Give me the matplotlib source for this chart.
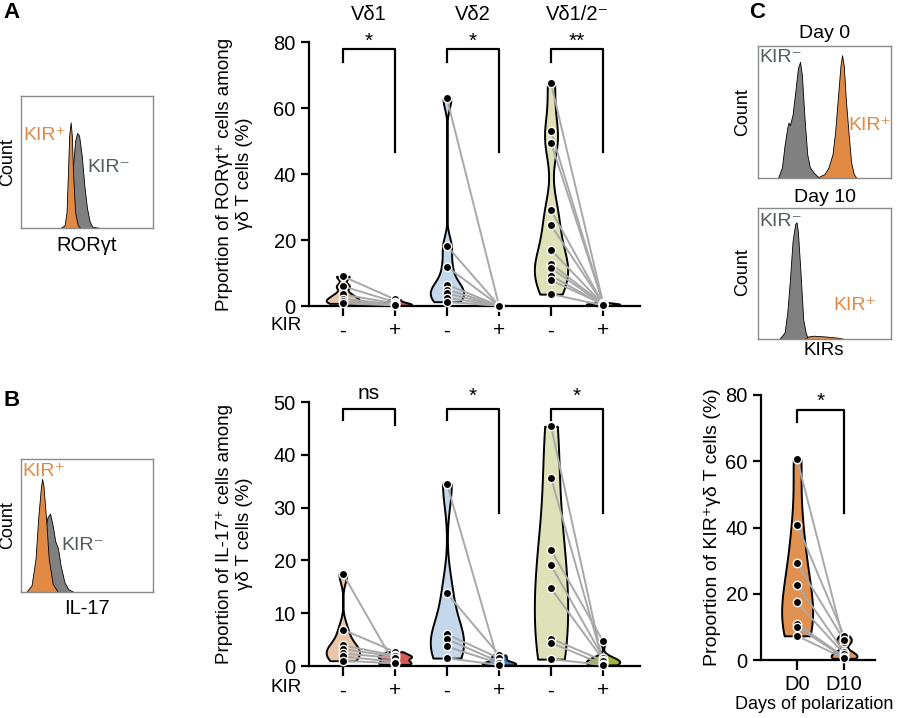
import matplotlib.pyplot as plt
from matplotlib.transforms import blended_transform_factory
import numpy as np

plt.rcParams['font.family'] = ['Liberation Sans', 'DejaVu Sans']

# ---- panel A: RORgt+ (%) ; KIR- / KIR+ paired per donor
ror_vd1_neg = [9.0, 6.0, 3.5, 2.2, 1.5, 0.8]
ror_vd1_pos = [2.0, 1.2, 0.8, 0.5, 0.3, 0.2]
ror_vd2_neg = [62.9, 18.2, 11.9, 6.5, 5.0, 3.8, 2.5, 1.3]
ror_vd2_pos = [0.2, 0.1, 0.15, 0.05, 0.1, 0.0, 0.05, 0.0]
ror_vd12_neg = [67.5, 53.0, 49.5, 29.0, 24.5, 17.0, 12.8, 11.5, 9.2, 7.8, 3.6]
ror_vd12_pos = [1.0, 0.8, 0.9, 0.6, 0.7, 0.5, 0.6, 0.4, 0.3, 0.5, 0.2]

# ---- panel B: IL-17+ (%)
il_vd1_neg = [17.5, 6.9, 3.9, 3.2, 2.4, 1.8, 1.0]
il_vd1_pos = [0.3, 2.7, 2.0, 1.8, 1.5, 0.8, 0.5]
il_vd2_neg = [34.5, 13.8, 6.0, 5.1, 3.7, 1.5]
il_vd2_pos = [0.3, 2.1, 1.5, 0.8, 0.5, 0.2]
il_vd12_neg = [45.4, 35.7, 22.0, 19.1, 14.7, 5.2, 4.4, 1.3]
il_vd12_pos = [0.5, 0.8, 4.7, 1.6, 1.2, 1.0, 0.3, 0.2]

# ---- panel C: KIR+ gd T cells (%) D0 vs D10
kir_d0 = [60.6, 40.8, 29.2, 22.7, 17.4, 10.9, 10.0, 7.3]
kir_d10 = [5.3, 7.3, 6.0, 2.5, 1.8, 1.0, 0.8, 0.5]

groups = ["Vδ1", "Vδ2", "Vδ1/2⁻"]
kir_ticks = ["-", "+"] * 3
day_ticks = ["D0", "D10"]

col_neg = ["#e9c6a8", "#c3d8ea", "#dfe2b8"]
col_pos = ["#d65a55", "#3f80c4", "#a5b23f"]
col_c = "#e0914f"
orange = "#e08a45"
kir_gray = "#555c5c"

# ---- flow histograms (box coords 0..1)
a_neg_x = [0.30, 0.34, 0.37, 0.39, 0.41, 0.425, 0.44, 0.46, 0.48, 0.50, 0.52, 0.54, 0.60]
a_neg_y = [0.0, 0.02, 0.12, 0.42, 0.66, 0.72, 0.70, 0.55, 0.32, 0.15, 0.05, 0.01, 0.0]
a_pos_x = [0.30, 0.33, 0.345, 0.355, 0.365, 0.376, 0.385, 0.395, 0.41, 0.43, 0.45]
a_pos_y = [0.0, 0.02, 0.12, 0.40, 0.70, 0.80, 0.70, 0.40, 0.12, 0.02, 0.0]

b_neg_x = [0.05, 0.10, 0.15, 0.18, 0.20, 0.22, 0.24, 0.26, 0.28, 0.30, 0.33, 0.36, 0.40]
b_neg_y = [0.0, 0.05, 0.20, 0.45, 0.56, 0.59, 0.50, 0.38, 0.33, 0.20, 0.07, 0.02, 0.0]
b_pos_x = [0.04, 0.08, 0.11, 0.13, 0.15, 0.16, 0.17, 0.19, 0.21, 0.24, 0.28]
b_pos_y = [0.0, 0.05, 0.25, 0.55, 0.78, 0.85, 0.80, 0.55, 0.25, 0.06, 0.0]

d0_neg_x = [0.15, 0.18, 0.20, 0.22, 0.23, 0.24, 0.26, 0.28, 0.30, 0.316, 0.33, 0.35, 0.37, 0.39, 0.42, 0.46]
d0_neg_y = [0.0, 0.08, 0.25, 0.38, 0.42, 0.40, 0.48, 0.65, 0.83, 0.88, 0.78, 0.45, 0.18, 0.08, 0.04, 0.0]
d0_pos_x = [0.44, 0.50, 0.53, 0.56, 0.58, 0.60, 0.62, 0.632, 0.645, 0.66, 0.68, 0.70, 0.72, 0.74]
d0_pos_y = [0.0, 0.03, 0.08, 0.18, 0.35, 0.60, 0.85, 0.93, 0.85, 0.60, 0.35, 0.12, 0.03, 0.0]

d10_neg_x = [0.16, 0.20, 0.22, 0.24, 0.26, 0.28, 0.29, 0.30, 0.32, 0.34, 0.36, 0.38]
d10_neg_y = [0.0, 0.05, 0.20, 0.45, 0.75, 0.88, 0.89, 0.82, 0.50, 0.15, 0.04, 0.0]
d10_pos_x = [0.35, 0.38, 0.42, 0.46, 0.50, 0.55, 0.60, 0.65]
d10_pos_y = [0.0, 0.02, 0.025, 0.022, 0.02, 0.015, 0.01, 0.0]

W, H = 900, 718
fig = plt.figure(figsize=(9, 7.18), dpi=100)


def box(x0, y0, x1, y1):
    # pixel box -> figure rect
    return [x0 / W, 1 - y1 / H, (x1 - x0) / W, (y1 - y0) / H]


def ftext(x, y, s, **kw):
    fig.text(x / W, 1 - y / H, s, **kw)


def violin(ax, data, pos, color, bw, width=0.64):
    parts = ax.violinplot(data, positions=[pos], widths=width,
                          showextrema=False, bw_method=bw, points=200)
    for b in parts['bodies']:
        b.set_facecolor(color)
        b.set_edgecolor('black')
        b.set_linewidth(1.4)
        b.set_alpha(1)
        b.set_zorder(2)


def pairs(ax, neg, pos, x0, x1):
    for a, b in zip(neg, pos):
        ax.plot([x0, x1], [a, b], color='#a8a8a8', lw=1.4, zorder=3)
    ax.plot([x0] * len(neg), neg, 'o', ms=6, mfc='black', mec='white',
            mew=1.0, zorder=4, clip_on=False)
    ax.plot([x1] * len(pos), pos, 'o', ms=6, mfc='black', mec='white',
            mew=1.0, zorder=4, clip_on=False)


def bracket(ax, x0, x1, top, lb, rb, label, ly):
    ax.plot([x0, x0, x1, x1], [lb, top, top, rb], color='black', lw=1.6,
            clip_on=False, zorder=5)
    ax.text((x0 + x1) / 2, ly, label, ha='center', va='center', fontsize=15,
            clip_on=False)


def style(ax):
    for s in ['top', 'right']:
        ax.spines[s].set_visible(False)
    for s in ['left', 'bottom']:
        ax.spines[s].set_linewidth(1.6)
    ax.tick_params(axis='both', labelsize=14.5, width=1.6, length=6)
    ax.tick_params(axis='x', length=7, pad=4)


def histo(rect, neg_x, neg_y, pos_x, pos_y):
    ax = fig.add_axes(rect)
    ax.fill_between(neg_x, neg_y, color='#808080', ec='black', lw=0.6)
    ax.fill_between(pos_x, pos_y, color=orange, ec='black', lw=0.6)
    ax.set_xlim(0, 1)
    ax.set_ylim(0, 1)
    ax.set_xticks([])
    ax.set_yticks([])
    for s in ax.spines.values():
        s.set_color('#8a8a8a')
        s.set_linewidth(1.0)
    return ax


# ======== violin panels A and B
xs = np.arange(6)
panelA = (ror_vd1_neg, ror_vd1_pos, ror_vd2_neg, ror_vd2_pos, ror_vd12_neg, ror_vd12_pos)
panelB = (il_vd1_neg, il_vd1_pos, il_vd2_neg, il_vd2_pos, il_vd12_neg, il_vd12_pos)
bwA = [0.3, 0.6, 0.15, 0.6, 0.3, 0.6]
bwB = [0.3, 0.5, 0.35, 0.5, 0.6, 0.5]

axA = fig.add_axes(box(309, 42, 640, 306))
axB = fig.add_axes(box(309, 402, 640, 666))

for ax, data, bws in [(axA, panelA, bwA), (axB, panelB, bwB)]:
    for g in range(3):
        violin(ax, data[2 * g], xs[2 * g], col_neg[g], bws[2 * g])
        violin(ax, data[2 * g + 1], xs[2 * g + 1], col_pos[g], bws[2 * g + 1])
        pairs(ax, data[2 * g], data[2 * g + 1], xs[2 * g], xs[2 * g + 1])
    style(ax)
    ax.set_xlim(-0.65, 5.71)
    ax.set_xticks(xs)
    ax.set_xticklabels(kir_ticks, fontsize=15)

axA.set_ylim(0, 80)
axA.set_yticks([0, 20, 40, 60, 80])
axB.set_ylim(0, 50)
axB.set_yticks([0, 10, 20, 30, 40, 50])

for g in range(3):
    bracket(axA, xs[2 * g], xs[2 * g + 1], 77.9, 74, 46.7,
            ["*", "*", "**"][g], 80.3)
bracket(axB, 0, 1, 48.6, 46.5, 45.7, "ns", 51.6)
bracket(axB, 2, 3, 48.6, 46.5, 29.0, "*", 51.0)
bracket(axB, 4, 5, 48.6, 46.5, 29.0, "*", 51.0)

trA = blended_transform_factory(axA.transData, fig.transFigure)
for g, name in enumerate(groups):
    axA.text(xs[2 * g] + 0.5, 1 - 15 / H, name, transform=trA,
             ha='center', va='center', fontsize=14.5)

ftext(286, 325, "KIR", ha='center', va='center', fontsize=13.5)
ftext(286, 687, "KIR", ha='center', va='center', fontsize=13.5)

axA.set_ylabel("Prportion of RORγt⁺ cells among\nγδ T cells (%)",
               fontsize=13.5, linespacing=1.2, labelpad=15)
axB.set_ylabel("Prportion of IL-17⁺ cells among\nγδ T cells (%)",
               fontsize=13.5, linespacing=1.2, labelpad=15)

# ======== panel C violin
axC = fig.add_axes(box(761, 395, 875, 660))
violin(axC, kir_d0, 0, col_c, 0.5, width=0.66)
violin(axC, kir_d10, 1, col_c, 0.4, width=0.55)
pairs(axC, kir_d0, kir_d10, 0, 1)
style(axC)
axC.set_xlim(-0.77, 1.66)
axC.set_ylim(0, 80)
axC.set_yticks([0, 20, 40, 60, 80])
axC.set_xticks([0, 1])
axC.set_xticklabels(day_ticks, fontsize=14.5)
axC.set_xlabel("Days of polarization", fontsize=13, labelpad=1)
axC.xaxis.set_label_coords(0.47, -0.135)
axC.set_ylabel("Proportion of KIR⁺γδ T cells (%)", fontsize=14, labelpad=3)
bracket(axC, 0, 1, 75.5, 72, 44.4, "*", 78.2)

# ======== histograms
histo(box(21, 96, 153, 228), a_neg_x, a_neg_y, a_pos_x, a_pos_y)
ftext(23, 136, "KIR⁺", color=orange, ha='left', va='center', fontsize=14)
ftext(87, 168, "KIR⁻", color=kir_gray, ha='left', va='center', fontsize=14)
ftext(8, 162, "Count", rotation=90, ha='center', va='center', fontsize=13)
ftext(87, 246, "RORγt", ha='center', va='center', fontsize=14.5)

histo(box(21, 459, 153, 592), b_neg_x, b_neg_y, b_pos_x, b_pos_y)
ftext(22, 472, "KIR⁺", color=orange, ha='left', va='center', fontsize=14)
ftext(61, 545, "KIR⁻", color=kir_gray, ha='left', va='center', fontsize=14)
ftext(8, 525, "Count", rotation=90, ha='center', va='center', fontsize=13)
ftext(87, 608, "IL-17", ha='center', va='center', fontsize=14.5)

histo(box(758, 46, 891, 178), d0_neg_x, d0_neg_y, d0_pos_x, d0_pos_y)
ftext(825, 34, "Day 0", ha='center', va='center', fontsize=14)
ftext(759, 58, "KIR⁻", color=kir_gray, ha='left', va='center', fontsize=14)
ftext(848, 125, "KIR⁺", color=orange, ha='left', va='center', fontsize=14)
ftext(743, 112, "Count", rotation=90, ha='center', va='center', fontsize=13)

histo(box(758, 208, 891, 339), d10_neg_x, d10_neg_y, d10_pos_x, d10_pos_y)
ftext(825, 197, "Day 10", ha='center', va='center', fontsize=14)
ftext(759, 222, "KIR⁻", color=kir_gray, ha='left', va='center', fontsize=14)
ftext(833, 305, "KIR⁺", color=orange, ha='left', va='center', fontsize=14)
ftext(743, 272, "Count", rotation=90, ha='center', va='center', fontsize=13)
ftext(824, 351, "KIRs", ha='center', va='center', fontsize=13.5)

# panel letters
ftext(12, 13, "A", ha='center', va='center', fontsize=16, weight='bold')
ftext(12, 400, "B", ha='center', va='center', fontsize=16, weight='bold')
ftext(757, 13, "C", ha='center', va='center', fontsize=16, weight='bold')

fig.savefig("out.png", dpi=100)
